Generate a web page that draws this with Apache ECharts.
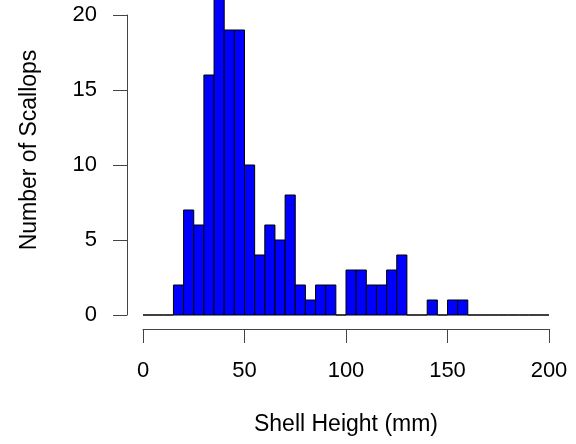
<!DOCTYPE html>
<html>
<head>
<meta charset="utf-8">
<script src="https://cdn.jsdelivr.net/npm/echarts@6/dist/echarts.min.js"></script>
<style>
  html, body { margin: 0; padding: 0; background: #fff; }
  #chart { width: 576px; height: 444px; }
</style>
</head>
<body>
<div id="chart"></div>
<script>
// histogram bins, 5 mm wide
var binEdges = [0, 5, 10, 15, 20, 25, 30, 35, 40, 45, 50, 55, 60, 65, 70, 75, 80, 85, 90, 95,
    100, 105, 110, 115, 120, 125, 130, 135, 140, 145, 150, 155, 160, 165, 170, 175, 180, 185, 190, 195, 200];
var counts = [0, 0, 0, 2, 7, 6, 16, 22, 19, 19, 10, 4, 6, 5, 8, 2, 1, 2, 2, 0,
    3, 3, 2, 2, 3, 4, 0, 0, 1, 0, 1, 1, 0, 0, 0, 0, 0, 0, 0, 0];
var xTicks = [0, 50, 100, 150, 200];
var yTicks = [0, 5, 10, 15, 20];

var font = "'Liberation Sans', Arial, sans-serif";
var axisColor = '#444';

var histData = [];
for (var i = 0; i < counts.length; i++) {
    histData.push([binEdges[i], binEdges[i + 1], counts[i]]);
}

var myChart = echarts.init(document.getElementById('chart'));
var option = {
    backgroundColor: '#fff',
    animation: false,
    grid: {
        left: 143,
        right: 27,
        top: 15,
        bottom: 129
    },
    xAxis: {
        type: 'value',
        min: xTicks[0],
        max: xTicks[xTicks.length - 1],
        interval: 50,
        offset: 14,
        name: 'Shell Height (mm)',
        nameLocation: 'middle',
        nameGap: 84,
        nameTextStyle: { color: '#000', fontSize: 23, fontFamily: font },
        axisLine: { show: true, onZero: false, lineStyle: { color: axisColor, width: 1 } },
        axisTick: { show: true, length: 14, lineStyle: { color: axisColor, width: 1 } },
        axisLabel: { color: '#000', fontSize: 22, fontFamily: font, margin: 31 },
        splitLine: { show: false }
    },
    yAxis: {
        type: 'value',
        min: yTicks[0],
        max: yTicks[yTicks.length - 1],
        interval: 5,
        offset: 16,
        axisLine: { show: true, onZero: false, lineStyle: { color: axisColor, width: 1 } },
        axisTick: { show: true, length: 14, lineStyle: { color: axisColor, width: 1 } },
        axisLabel: { color: '#000', fontSize: 22, fontFamily: font, margin: 30 },
        splitLine: { show: false }
    },
    graphic: [{
        type: 'text',
        x: 30,
        y: 150,
        rotation: Math.PI / 2,
        style: {
            text: 'Number of Scallops',
            fill: '#000',
            font: '23px ' + font,
            textAlign: 'center',
            textVerticalAlign: 'middle'
        }
    }],
    series: [{
        type: 'custom',
        clip: false,
        data: histData,
        encode: { x: [0, 1], y: 2 },
        renderItem: function (params, api) {
            var p0 = api.coord([api.value(0), api.value(2)]);
            var p1 = api.coord([api.value(1), 0]);
            return {
                type: 'rect',
                shape: { x: p0[0], y: p0[1], width: p1[0] - p0[0], height: p1[1] - p0[1] },
                style: { fill: '#0000ff', stroke: '#000', lineWidth: 1 }
            };
        }
    }]
};
myChart.setOption(option);
</script>
</body>
</html>
